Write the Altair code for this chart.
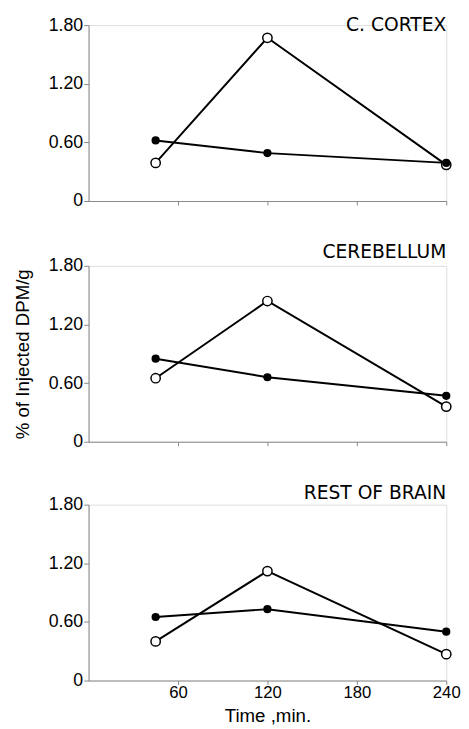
import altair as alt
import pandas as pd

times = [45, 120, 240]
regions = ["C. CORTEX", "CEREBELLUM", "REST OF BRAIN"]
open_vals = {
    "C. CORTEX": [0.39, 1.67, 0.37],
    "CEREBELLUM": [0.65, 1.44, 0.36],
    "REST OF BRAIN": [0.40, 1.12, 0.27],
}
filled_vals = {
    "C. CORTEX": [0.62, 0.49, 0.39],
    "CEREBELLUM": [0.85, 0.66, 0.47],
    "REST OF BRAIN": [0.65, 0.73, 0.50],
}
x_ticks = [60, 120, 180, 240]
y_ticks = [0, 0.6, 1.2, 1.8]
title_offsets = [-34, -20, -22]

FONT = "DejaVu Sans"


def panel(i, region):
    rows = []
    for t, v in zip(times, open_vals[region]):
        rows.append({"time": t, "value": v, "series": "open"})
    for t, v in zip(times, filled_vals[region]):
        rows.append({"time": t, "value": v, "series": "filled"})
    df = pd.DataFrame(rows)
    last = i == len(regions) - 1
    xaxis = alt.Axis(
        values=x_ticks,
        labels=last,
        labelFlush=False,
        title="Time ,min." if last else "",
        grid=False,
        tickSize=4,
        labelFontSize=17,
        titleFontSize=19,
        titleFontWeight="normal",
        labelPadding=0,
        titlePadding=7,
    )
    yaxis = alt.Axis(
        values=y_ticks,
        grid=False,
        tickSize=5,
        labelFontSize=18,
        labelPadding=1,
        labelExpr="datum.value == 0 ? '0' : format(datum.value, '.2f')",
        title="% of Injected DPM/g" if i == 1 else "",
        titleFontSize=19,
        titleFontWeight="normal",
        titlePadding=16,
    )
    base = alt.Chart(df).encode(
        x=alt.X("time:Q", scale=alt.Scale(domain=[0, 240], nice=False), axis=xaxis),
        y=alt.Y("value:Q", scale=alt.Scale(domain=[0, 1.8], nice=False), axis=yaxis),
    )
    lines = base.mark_line(color="black", strokeWidth=2).encode(detail="series:N")
    opens = base.transform_filter(alt.datum.series == "open").mark_point(
        shape="circle", filled=False, fill="white", fillOpacity=1, stroke="black",
        strokeWidth=1.5, size=90, opacity=1,
    )
    fills = base.transform_filter(alt.datum.series == "filled").mark_circle(
        color="black", size=70, opacity=1,
    )
    return alt.layer(lines, opens, fills).properties(
        width=364,
        height=179,
        title=alt.TitleParams(
            region, anchor="end", frame="group", fontSize=19, font=FONT,
            fontWeight="normal", baseline="alphabetic", offset=title_offsets[i],
        ),
    )


chart = alt.vconcat(*[panel(i, r) for i, r in enumerate(regions)], spacing=32).configure_view(
    stroke=None
).configure_axis(
    domainColor="black", tickColor="black", labelColor="black", titleColor="black",
    labelFont=FONT, titleFont=FONT, titleFontWeight="normal", domainWidth=1.5, tickWidth=1.5,
).configure(
    background="white", padding={"top": 1, "left": 5, "right": 0, "bottom": 0}
)

chart.save("out.html", embed_options={"renderer": "svg", "actions": False})
